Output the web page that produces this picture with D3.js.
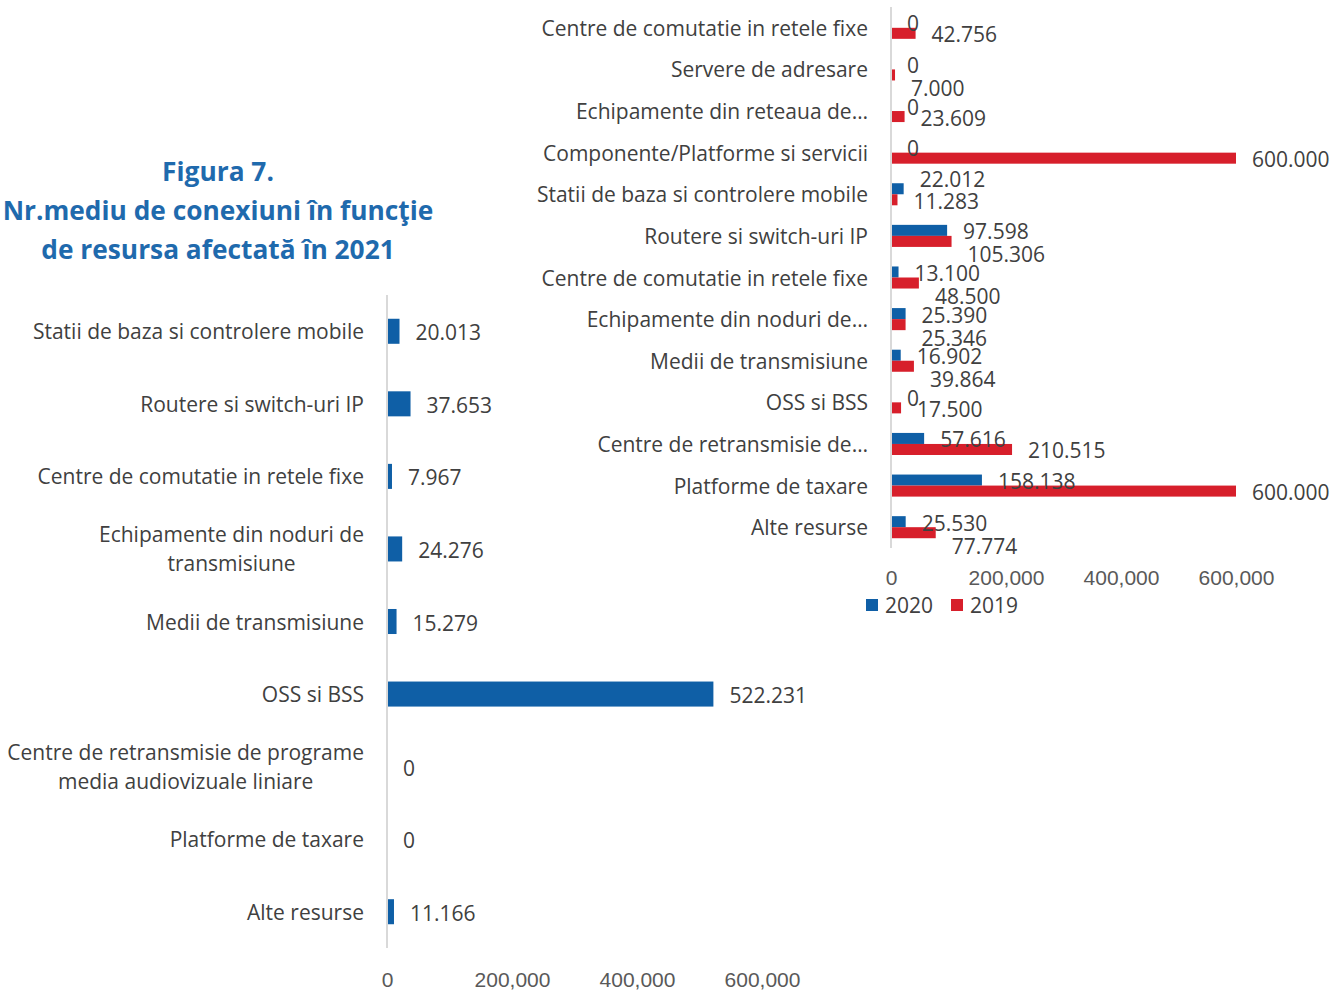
<!DOCTYPE html>
<html>
<head>
  <meta charset="utf-8" />
  <title>Figura 7</title>
  <script src="https://d3js.org/d3.v7.min.js"></script>
  <style>
    body { margin: 0; background: #fff; }
    svg { display: block; font-family: "Open Sans", sans-serif; }
    .cat { font-size: 21px; fill: #404040; }
    .val { font-size: 21px; fill: #404040; }
    .tick text { font-size: 21px; fill: #595959; }
    .title { font-size: 26.3px; font-weight: bold; fill: #1f6aad; }
  </style>
</head>
<body>
<svg width="1333" height="991"></svg>
<script>
  // left chart: 2021
  const cats2021 = [
    "Statii de baza si controlere mobile",
    "Routere si switch-uri IP",
    "Centre de comutatie in retele fixe",
    "Echipamente din noduri de transmisiune",
    "Medii de transmisiune",
    "OSS si BSS",
    "Centre de retransmisie de programe media audiovizuale liniare",
    "Platforme de taxare",
    "Alte resurse"
  ];
  const vals2021 = [20013, 37653, 7967, 24276, 15279, 522231, 0, 0, 11166];

  // right chart: 2020 vs 2019
  const catsPrev = [
    "Centre de comutatie in retele fixe",
    "Servere de adresare",
    "Echipamente din reteaua de…",
    "Componente/Platforme si servicii",
    "Statii de baza si controlere mobile",
    "Routere si switch-uri IP",
    "Centre de comutatie in retele fixe",
    "Echipamente din noduri de…",
    "Medii de transmisiune",
    "OSS si BSS",
    "Centre de retransmisie de…",
    "Platforme de taxare",
    "Alte resurse"
  ];
  const vals2020 = [0, 0, 0, 0, 22012, 97598, 13100, 25390, 16902, 0, 57616, 158138, 25530];
  const vals2019 = [42756, 7000, 23609, 600000, 11283, 105306, 48500, 25346, 39864, 17500, 210515, 600000, 77774];
  const seriesNames = ["2020", "2019"];
  const xTicks = [0, 200000, 400000, 600000];

  const blue = "#0f5fa6", red = "#d71f2b";
  const svg = d3.select("svg");
  const fmtVal = d3.formatLocale({ decimal: ",", thousands: ".", grouping: [3], currency: ["", ""] }).format(",");
  const fmtTick = d3.format(",");

  // title
  const title = svg.append("text").attr("class", "title").attr("text-anchor", "middle");
  ["Figura 7.", "Nr.mediu de conexiuni în funcţie", "de resursa afectată în 2021"].forEach((t, i) => {
    title.append("tspan").attr("x", 218).attr("y", 181 + i * 39).text(t);
  });

  // wrap right-aligned labels; wrapped blocks are centred on themselves
  function wrap(sel, width) {
    sel.each(function () {
      const text = d3.select(this);
      const words = text.text().split(" ");
      const y = +text.attr("y");
      const right = +text.attr("x");
      text.text(null);
      let lines = [], line = [];
      let tspan = text.append("tspan");
      words.forEach(w => {
        line.push(w);
        tspan.text(line.join(" "));
        if (tspan.node().getComputedTextLength() > width && line.length > 1) {
          line.pop();
          lines.push(line.join(" "));
          line = [w];
          tspan.text(w);
        }
      });
      lines.push(line.join(" "));
      tspan.remove();
      if (lines.length === 1) {
        text.text(lines[0]);
        return;
      }
      const lh = 29;
      const spans = lines.map((l, i) => text.append("tspan")
        .attr("y", y + (i - (lines.length - 1) / 2) * lh).text(l));
      const maxW = d3.max(spans, s => s.node().getComputedTextLength());
      text.attr("text-anchor", "middle");
      spans.forEach(s => s.attr("x", right - maxW / 2));
    });
  }

  // ---------- left chart ----------
  const xL = d3.scaleLinear().domain([0, 600000]).range([387, 762]);
  const yL = d3.scaleBand().domain(cats2021).range([295, 948]).paddingInner(0.655).paddingOuter(0.3275);
  const gL = svg.append("g");

  gL.selectAll("rect").data(cats2021).join("rect")
    .attr("x", xL(0))
    .attr("y", d => yL(d))
    .attr("width", (d, i) => xL(vals2021[i]) - xL(0))
    .attr("height", yL.bandwidth())
    .attr("fill", blue);

  gL.append("line").attr("x1", xL(0)).attr("x2", xL(0)).attr("y1", 295).attr("y2", 948)
    .attr("stroke", "#d9d9d9").attr("stroke-width", 2);

  gL.selectAll(".cat").data(cats2021).join("text")
    .attr("class", "cat")
    .attr("x", 364)
    .attr("y", d => yL(d) + yL.bandwidth() / 2)
    .attr("text-anchor", "end")
    .attr("dominant-baseline", "central")
    .text(d => d)
    .call(wrap, 368);

  gL.selectAll(".val").data(cats2021).join("text")
    .attr("class", "val")
    .attr("x", (d, i) => xL(vals2021[i]) + 16)
    .attr("y", d => yL(d) + yL.bandwidth() / 2 + 1)
    .attr("dominant-baseline", "central")
    .text((d, i) => fmtVal(vals2021[i]));

  gL.append("g").attr("transform", "translate(0,979)")
    .call(d3.axisBottom(xL).tickValues(xTicks).tickFormat(fmtTick).tickSize(0).tickPadding(0))
    .call(g => g.select(".domain").remove())
    .selectAll("text").attr("dy", null).attr("dominant-baseline", "central");

  // ---------- right chart ----------
  const xR = d3.scaleLinear().domain([0, 600000]).range([891, 1236]);
  const yR = d3.scaleBand().domain(d3.range(catsPrev.length)).range([7, 548]).paddingInner(0.47).paddingOuter(0.235);
  const ySub = d3.scaleBand().domain(seriesNames).range([0, yR.bandwidth()]);
  const gR = svg.append("g");
  const colors = { "2020": blue, "2019": red };
  const seriesVals = { "2020": vals2020, "2019": vals2019 };

  const groups = gR.selectAll(".grp").data(catsPrev.map((c, i) => i)).join("g")
    .attr("class", "grp")
    .attr("transform", i => `translate(0,${yR(i)})`);

  groups.selectAll("rect").data(i => seriesNames.map(s => ({ s, v: seriesVals[s][i] }))).join("rect")
    .attr("x", xR(0))
    .attr("y", d => ySub(d.s))
    .attr("width", d => xR(d.v) - xR(0))
    .attr("height", ySub.bandwidth())
    .attr("fill", d => colors[d.s]);

  gR.append("line").attr("x1", xR(0)).attr("x2", xR(0)).attr("y1", 7).attr("y2", 548)
    .attr("stroke", "#d9d9d9").attr("stroke-width", 2);

  gR.selectAll(".cat").data(catsPrev).join("text")
    .attr("class", "cat")
    .attr("x", 868)
    .attr("y", (d, i) => yR(i) + yR.bandwidth() / 2)
    .attr("text-anchor", "end")
    .attr("dominant-baseline", "central")
    .text(d => d);

  // data labels, nudged apart when they would collide (as the spreadsheet does)
  groups.each(function (i) {
    const g = d3.select(this);
    const bx0 = xR(vals2020[i]) + 16, rx0 = xR(vals2019[i]) + 16;
    const lb = g.append("text").attr("class", "val").attr("x", bx0).text(fmtVal(vals2020[i]));
    const lr = g.append("text").attr("class", "val").attr("x", rx0).text(fmtVal(vals2019[i]));
    let yb = ySub("2020") + ySub.bandwidth() / 2 + 1;
    let yr = ySub("2019") + ySub.bandwidth() / 2 + 1;
    const wb = lb.node().getComputedTextLength(), wr = lr.node().getComputedTextLength();
    const tol = 3;
    const overlap = bx0 < rx0 + wr - tol && rx0 < bx0 + wb - tol;
    if (overlap) {
      if (rx0 < bx0 - tol) yb -= 11;
      else yr += 12;
    }
    lb.attr("y", yb).attr("dominant-baseline", "central");
    lr.attr("y", yr).attr("dominant-baseline", "central");
  });

  gR.append("g").attr("transform", "translate(0,577)")
    .call(d3.axisBottom(xR).tickValues(xTicks).tickFormat(fmtTick).tickSize(0).tickPadding(0))
    .call(g => g.select(".domain").remove())
    .selectAll("text").attr("dy", null).attr("dominant-baseline", "central");

  // legend
  const leg = svg.append("g").attr("transform", "translate(866,605)");
  seriesNames.forEach((s, i) => {
    const item = leg.append("g").attr("transform", `translate(${i * 85},0)`);
    item.append("rect").attr("x", 0).attr("y", -6).attr("width", 12).attr("height", 12).attr("fill", colors[s]);
    item.append("text").attr("class", "val").attr("x", 19).attr("dominant-baseline", "central").text(s);
  });
</script>
</body>
</html>
